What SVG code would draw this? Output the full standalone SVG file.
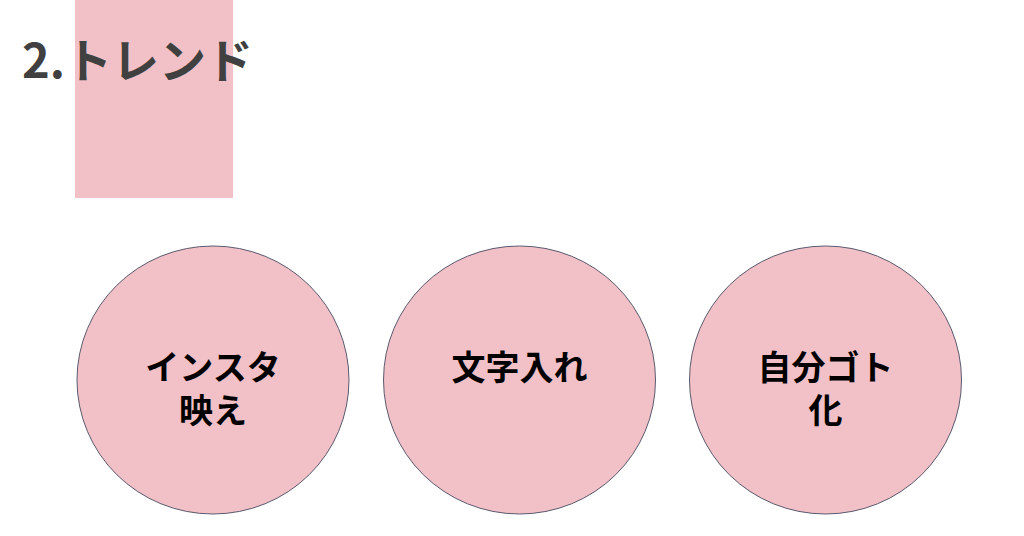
<svg xmlns="http://www.w3.org/2000/svg" width="1024" height="536" viewBox="0 0 1024 536">
<style>
.bg{fill:#ffffff}
.pink{fill:#f2c0c7}
.node{fill:#f2c0c7;stroke:#5a5a6e;stroke-width:1}
.lbl{font-family:"Noto Sans CJK JP","Noto Sans",sans-serif;font-weight:bold;font-size:34px;fill:#000000;text-anchor:middle}
.title{font-family:"Noto Sans CJK JP","Noto Sans",sans-serif;font-weight:bold;font-size:47px;fill:#404040}
</style>
<rect class="bg" x="0" y="0" width="1024" height="536"/>
<rect class="pink" x="75" y="0" width="158" height="198"/>
<text class="title" x="22" y="78">2.トレンド</text>
<g id="connectors"></g>
<g id="node1">
<ellipse class="node" cx="213" cy="380" rx="136" ry="134"/>
<text class="lbl"><tspan x="213" y="380">インスタ</tspan><tspan x="213" y="423">映え</tspan></text>
</g>
<g id="node2">
<ellipse class="node" cx="519.5" cy="380" rx="136" ry="134"/>
<text class="lbl" x="519.5" y="380">文字入れ</text>
</g>
<g id="node3">
<ellipse class="node" cx="825.5" cy="380" rx="136" ry="134"/>
<text class="lbl"><tspan x="825.5" y="380">自分ゴト</tspan><tspan x="825.5" y="423">化</tspan></text>
</g>
</svg>
